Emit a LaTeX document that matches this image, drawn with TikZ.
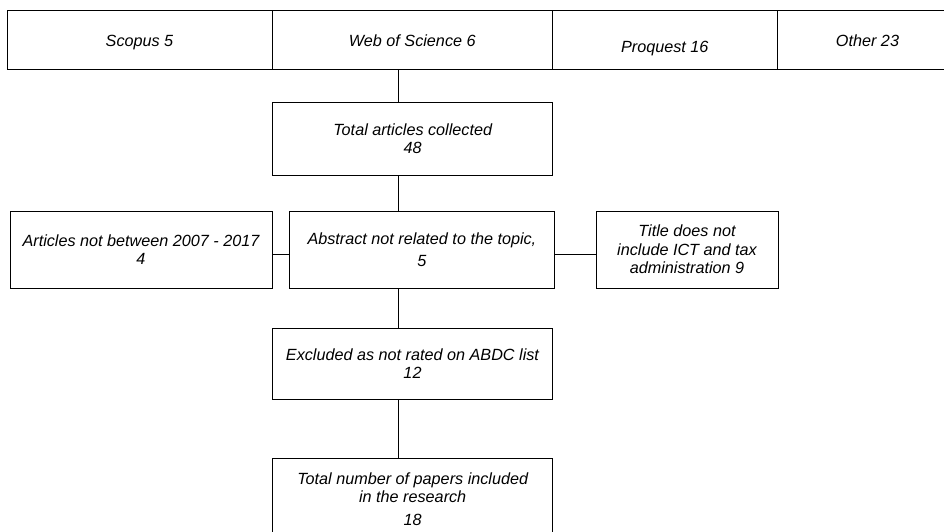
\documentclass[tikz,border=0pt]{standalone}
\usepackage{fontspec}
\setmainfont{Liberation Sans}
\usepackage{tikz}

\begin{document}
\begin{tikzpicture}[x=1pt,y=-1pt,line width=0.9pt,
  box/.style={draw,rectangle,inner sep=0pt,align=center,font=\fontsize{16.2}{18.3}\selectfont\itshape},
  src/.style={box,minimum height=59pt,text height=14pt,text depth=0pt}]
\useasboundingbox (0,0) rectangle (944,531) ;
\clip (0,0) rectangle (944,531) ;
\node[src,minimum width=265pt] (s1) at (139.5,39.5) {Scopus 5} ;
\node[src,minimum width=280.7pt] (s2) at (412.3,39.5) {Web of Science 6} ;
\node[src,minimum width=224.3pt,text height=25pt] (s3) at (664.8,39.5) {Proquest 16} ;
\node[src,minimum width=181pt] (s4) at (867.5,39.5) {Other 23} ;
\node[box,minimum width=280pt,minimum height=72.7pt] (n1) at (412.7,138.7) {Total articles collected\\48} ;
\node[box,minimum width=262pt,minimum height=77pt] (n2) at (141,249.5) {Articles not between 2007 - 2017\\4} ;
\node[box,minimum width=265.7pt,minimum height=77pt] (n3) at (421.9,249.5) {Abstract not related to the topic,\\[4pt]5} ;
\node[box,minimum width=182pt,minimum height=77pt] (n4) at (687,249.5) {Title does not\\include ICT and tax\\administration 9} ;
\node[box,minimum width=280pt,minimum height=71pt] (n5) at (412.5,363.5) {Excluded as not rated on ABDC list\\12} ;
\node[box,minimum width=280pt,minimum height=82pt] (n6) at (412.7,499) {Total number of papers included\\in the research\\[4pt]18} ;
\coordinate (c) at (398,0) ;
\coordinate (h) at (0,254) ;
\draw (s2.south -| c) to (n1.north -| c) ;
\draw (n1.south -| c) to (n3.north -| c) ;
\draw (n3.south -| c) to (n5.north -| c) ;
\draw (n5.south -| c) to (n6.north -| c) ;
\draw (n2.east |- h) to (n3.west |- h) ;
\draw (n3.east |- h) to (n4.west |- h) ;
\end{tikzpicture}
\end{document}
